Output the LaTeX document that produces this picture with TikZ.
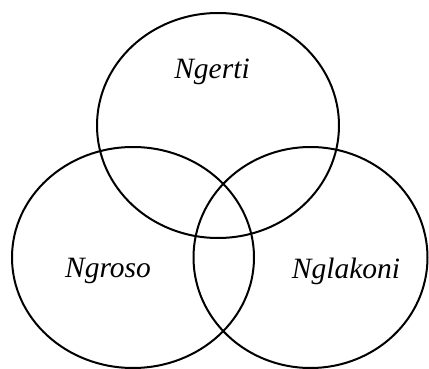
\documentclass[tikz,border=0pt]{standalone}
\usepackage{fontspec}
\setmainfont{Liberation Serif}[ItalicFont={Liberation Serif Italic}]
\begin{document}
\begin{tikzpicture}[x=1pt,y=-1pt,
  setshape/.style={draw=black,line width=2pt},
  lbl/.style={font=\fontsize{29.5}{32}\selectfont\itshape,inner sep=0pt}]
\useasboundingbox (0,0) rectangle (429,369);
\draw[setshape] (218,125.5) ellipse [x radius=121, y radius=112.5];
\draw[setshape] (133,257.5) ellipse [x radius=121, y radius=110.5];
\draw[setshape] (310.5,257.5) ellipse [x radius=117, y radius=110.5];
\node[lbl] (ngerti) at (212,72) {Ngerti};
\node[lbl] (ngroso) at (108,271) {Ngroso};
\node[lbl] (nglakoni) at (346,271) {Nglakoni};
\end{tikzpicture}
\end{document}
